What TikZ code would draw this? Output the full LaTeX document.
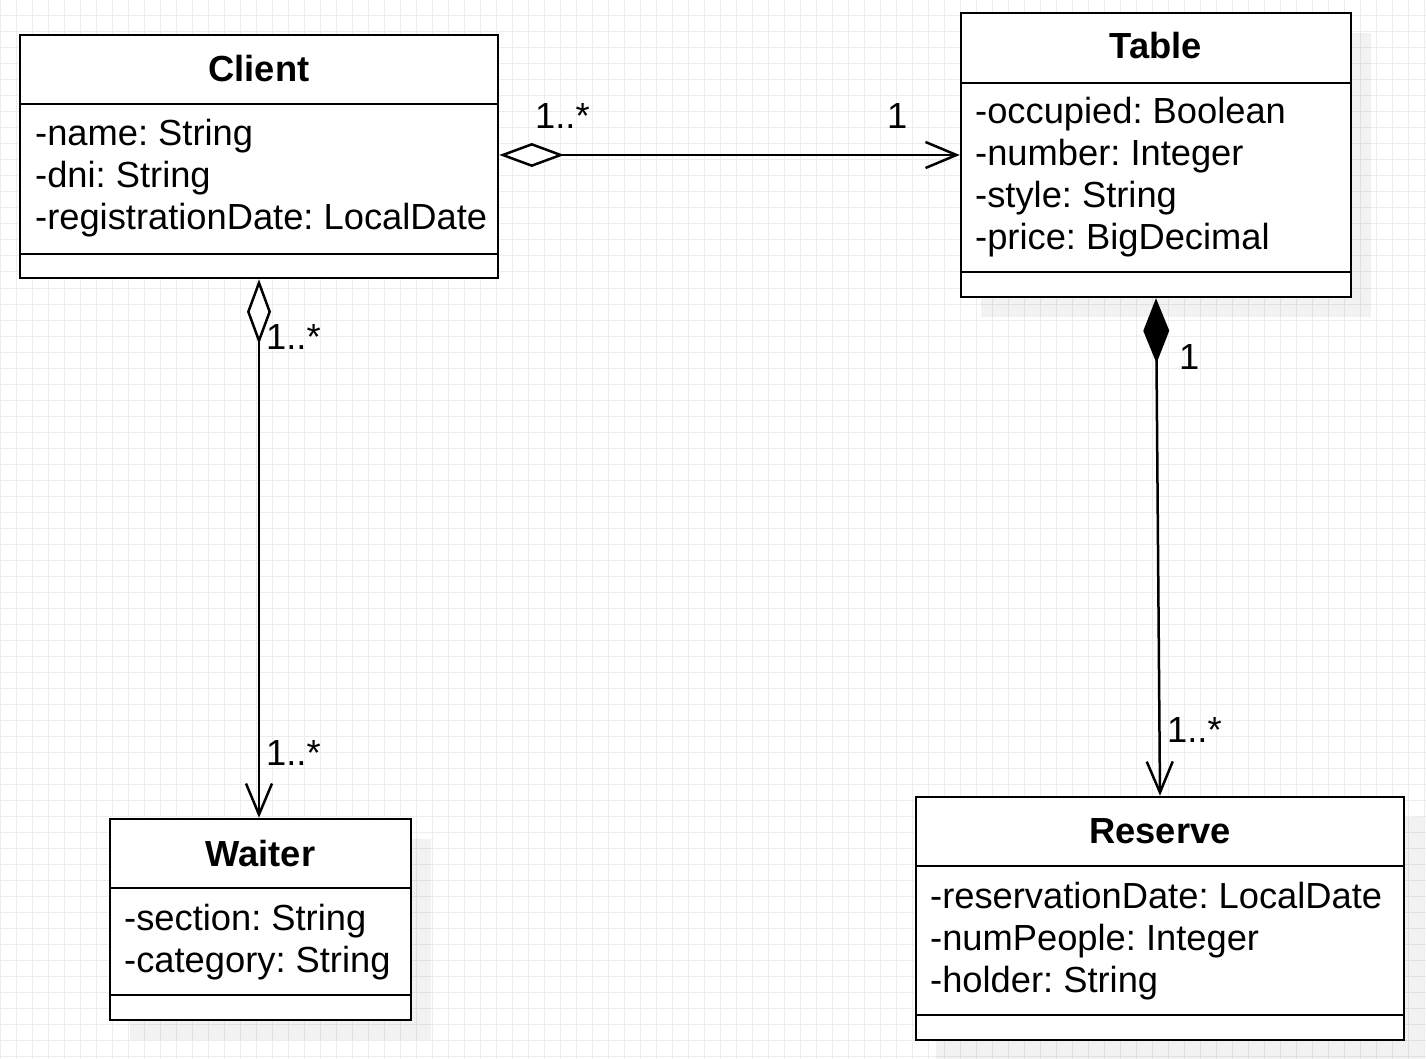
\documentclass[tikz,border=0pt]{standalone}
\usepackage{fontspec}
\setmainfont{Liberation Sans}
\usetikzlibrary{arrows.meta, shadows}
\frenchspacing

\begin{document}
\begin{tikzpicture}[x = 1pt, y = -1pt,
		gridline/.style = {black!7, line width = 1pt},
		classbox/.style = {draw, line width = 2.5pt, fill = white, inner sep = 0pt},
		shadowed/.style = {general shadow = {shadow xshift = 20pt, shadow yshift = -20pt, fill = black, fill opacity = 0.05}},
		sep/.style = {line width = 2.5pt},
		classname/.style = {anchor = base, inner sep = 0pt, font = \fontsize{36.3}{42}\selectfont\bfseries},
		attr/.style = {anchor = base west, inner sep = 0pt, font = \fontsize{36.3}{42}\selectfont},
		mult/.style = {anchor = base west, inner sep = 0pt, font = \fontsize{36.3}{42}\selectfont},
		link/.style = {line width = 2.5pt}]
		\useasboundingbox (0, 0) rectangle (1426, 1059);
		% grid
		\fill[white] (0, 0) rectangle (1426, 1059);
		\foreach \gx in {0, 16, ..., 1424} \draw[gridline] (\gx, 0) -- (\gx, 1059);
		\foreach \gy in {0, 16, ..., 1056} \draw[gridline] (0, \gy) -- (1426, \gy);
		% classes
		\node[classbox, minimum width = 478, minimum height = 243] (client) at (259, 156.5) {};
		\node[classbox, shadowed, minimum width = 390, minimum height = 284] (table) at (1156, 155) {};
		\node[classbox, shadowed, minimum width = 301, minimum height = 201] (waiter) at (260.5, 919.5) {};
		\node[classbox, shadowed, minimum width = 488, minimum height = 243] (reserve) at (1160, 918.5) {};
		% compartments
		\draw[sep] (client.west |- 0, 104) -- (client.east |- 0, 104);
		\draw[sep] (client.west |- 0, 254) -- (client.east |- 0, 254);
		\draw[sep] (table.west |- 0, 83) -- (table.east |- 0, 83);
		\draw[sep] (table.west |- 0, 272) -- (table.east |- 0, 272);
		\draw[sep] (waiter.west |- 0, 888) -- (waiter.east |- 0, 888);
		\draw[sep] (waiter.west |- 0, 995) -- (waiter.east |- 0, 995);
		\draw[sep] (reserve.west |- 0, 866) -- (reserve.east |- 0, 866);
		\draw[sep] (reserve.west |- 0, 1015) -- (reserve.east |- 0, 1015);
		% names
		\node[classname] (client-name) at (259, 82) {Client};
		\node[classname] (table-name) at (1156, 59) {Table};
		\node[classname] (waiter-name) at (260.5, 866) {Waiter};
		\node[classname] (reserve-name) at (1160, 843) {Reserve};
		% attributes
		\node[attr] (client-a1) at (35, 146) {-name: String};
		\node[attr] (client-a2) at (35, 188) {-dni: String};
		\node[attr] (client-a3) at (35, 230) {-registrationDate: LocalDate};
		\node[attr] (table-a1) at (975, 124) {-occupied: Boolean};
		\node[attr] (table-a2) at (975, 166) {-number: Integer};
		\node[attr] (table-a3) at (975, 208) {-style: String};
		\node[attr] (table-a4) at (975, 250) {-price: BigDecimal};
		\node[attr] (waiter-a1) at (124, 930) {-section: String};
		\node[attr] (waiter-a2) at (124, 972) {-category: String};
		\node[attr] (reserve-a1) at (930, 908) {-reservationDate: LocalDate};
		\node[attr] (reserve-a2) at (930, 950) {-numPeople: Integer};
		\node[attr] (reserve-a3) at (930, 992) {-holder: String};
		% associations
		\draw[link, {Diamond[fill = white, length = 65pt, width = 24pt]}-{Straight Barb[length = 31pt, width = 26pt]}]
			(client.east |- table.west) -- (table.west);
		\draw[link, {Diamond[fill = white, length = 65pt, width = 24pt]}-{Straight Barb[length = 31pt, width = 26pt]}]
			(client.south) -- (client.south |- waiter.north);
		\draw[link, {Diamond[fill = black, length = 65pt, width = 26pt]}-{Straight Barb[length = 31pt, width = 26pt]}]
			(table.south) -- (reserve.north);
		% multiplicities
		\node[mult] (m-client-table) at (535, 129) {1..*};
		\node[mult] (m-table-client) at (887, 129) {1};
		\node[mult] (m-client-waiter) at (266, 349) {1..*};
		\node[mult] (m-waiter-client) at (266, 765) {1..*};
		\node[mult] (m-table-reserve) at (1179, 369) {1};
		\node[mult] (m-reserve-table) at (1167, 742) {1..*};
	\end{tikzpicture}
\end{document}
